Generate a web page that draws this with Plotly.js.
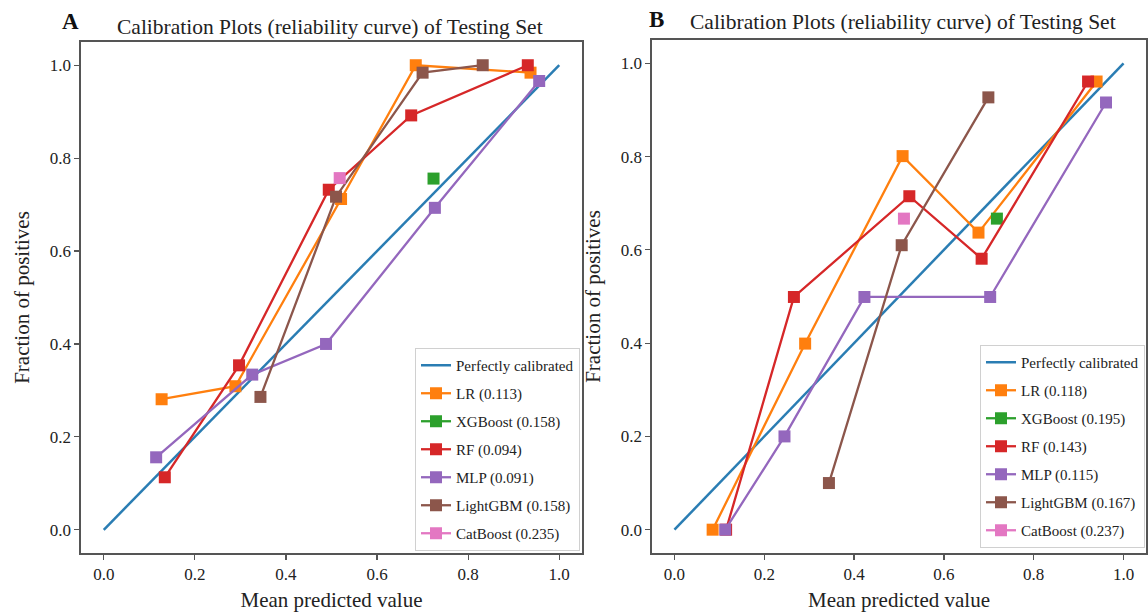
<!DOCTYPE html>
<html>
<head>
<meta charset="utf-8">
<script src="https://cdn.plot.ly/plotly-3.0.0.min.js"></script>
<style>html,body{margin:0;padding:0;background:#fff;}#chart{width:1148px;height:616px;}</style>
</head>
<body>
<div id="chart"></div>
<script>
// ---------- Data ----------
const perfectX = [0, 1];
const perfectY = [0, 1];

const modelNames = ["LR", "XGBoost", "RF", "MLP", "LightGBM", "CatBoost"];
const modelColors = ["#ff7f0e", "#2ca02c", "#d62728", "#9467bd", "#8c564b", "#e377c2"];

// Panel A
const scoresA = ["0.113", "0.158", "0.094", "0.091", "0.158", "0.235"];
const lrA_x = [0.127, 0.289, 0.521, 0.685, 0.937];
const lrA_y = [0.281, 0.309, 0.712, 1.000, 0.984];
const xgbA_x = [0.724];
const xgbA_y = [0.756];
const rfA_x = [0.134, 0.297, 0.494, 0.675, 0.931];
const rfA_y = [0.113, 0.354, 0.732, 0.892, 1.000];
const mlpA_x = [0.115, 0.326, 0.488, 0.727, 0.956];
const mlpA_y = [0.156, 0.334, 0.400, 0.693, 0.966];
const lgbA_x = [0.344, 0.510, 0.700, 0.832];
const lgbA_y = [0.286, 0.717, 0.984, 1.000];
const catA_x = [0.518];
const catA_y = [0.757];

// Panel B
const scoresB = ["0.118", "0.195", "0.143", "0.115", "0.167", "0.237"];
const lrB_x = [0.085, 0.291, 0.508, 0.677, 0.940];
const lrB_y = [0.000, 0.399, 0.801, 0.637, 0.961];
const xgbB_x = [0.718];
const xgbB_y = [0.667];
const rfB_x = [0.115, 0.266, 0.523, 0.684, 0.921];
const rfB_y = [0.000, 0.499, 0.715, 0.581, 0.961];
const mlpB_x = [0.113, 0.245, 0.423, 0.703, 0.961];
const mlpB_y = [0.000, 0.200, 0.499, 0.499, 0.916];
const lgbB_x = [0.344, 0.506, 0.699];
const lgbB_y = [0.100, 0.610, 0.927];
const catB_x = [0.511];
const catB_y = [0.667];

const tickVals = [0, 0.2, 0.4, 0.6, 0.8, 1.0];
const tickText = ["0.0", "0.2", "0.4", "0.6", "0.8", "1.0"];
const titleText = "Calibration Plots (reliability curve) of Testing Set";
const xTitle = "Mean predicted value";
const yTitle = "Fraction of positives";

// ---------- Build traces ----------
const FONT = "Liberation Serif";
const W = 1148, H = 616;

function panelTraces(xs, ys, scores, xa, ya, legendId, prefix) {
  const traces = [{
    x: perfectX, y: perfectY, type: "scatter", mode: "lines",
    name: "Perfectly calibrated", line: {color: "#2a7db3", width: 2.5},
    xaxis: xa, yaxis: ya, legend: legendId, legendgroup: prefix + "p"
  }];
  for (let i = 0; i < modelNames.length; i++) {
    traces.push({
      x: xs[i], y: ys[i], type: "scatter", mode: "lines+markers",
      name: modelNames[i] + " (" + scores[i] + ")",
      line: {color: modelColors[i], width: 2.3},
      marker: {symbol: "square", size: 12, color: modelColors[i]},
      xaxis: xa, yaxis: ya, legend: legendId, legendgroup: prefix + i
    });
  }
  return traces;
}

const data = [].concat(
  panelTraces([lrA_x, xgbA_x, rfA_x, mlpA_x, lgbA_x, catA_x],
              [lrA_y, xgbA_y, rfA_y, mlpA_y, lgbA_y, catA_y], scoresA, "x", "y", "legend", "a"),
  panelTraces([lrB_x, xgbB_x, rfB_x, mlpB_x, lgbB_x, catB_x],
              [lrB_y, xgbB_y, rfB_y, mlpB_y, lgbB_y, catB_y], scoresB, "x2", "y2", "legend2", "b")
);

function axis(domain, anchor, title, standoff) {
  return {
    domain: domain, anchor: anchor, range: [-0.05, 1.05],
    tickvals: tickVals, ticktext: tickText,
    ticks: "outside", ticklen: 5, tickwidth: 1.2, tickcolor: "#555",
    showline: true, linecolor: "#555", linewidth: 1.6, mirror: true,
    showgrid: false, zeroline: false,
    tickfont: {family: FONT, size: 17, color: "#222"},
    title: {text: title, font: {family: FONT, size: 21, color: "#222"}, standoff: standoff}
  };
}

const legendStyle = (x, y) => ({
  x: x, y: y, xanchor: "left", yanchor: "top",
  bgcolor: "rgba(255,255,255,0.9)", bordercolor: "#d0d0d0", borderwidth: 1,
  font: {family: FONT, size: 15, color: "#222"},
  traceorder: "grouped", tracegroupgap: 5.5
});

const layout = {
  width: W, height: H,
  margin: {l: 0, r: 0, t: 0, b: 0},
  paper_bgcolor: "#fff", plot_bgcolor: "#fff",
  showlegend: true,
  font: {family: FONT},
  xaxis: axis([81 / W, 582 / W], "y", xTitle, 9),
  yaxis: axis([1 - 553 / H, 1 - 42 / H], "x", yTitle, 14),
  xaxis2: axis([652 / W, 1146 / W], "y2", xTitle, 9),
  yaxis2: axis([1 - 553 / H, 1 - 40 / H], "x2", yTitle, 14),
  legend: legendStyle(415 / W, 1 - 348 / H),
  legend2: legendStyle(980 / W, 1 - 345 / H),
  annotations: [
    {text: titleText, x: 330 / W, y: 1 - 27 / H, xref: "paper", yref: "paper",
     showarrow: false, xanchor: "center", yanchor: "middle",
     font: {family: FONT, size: 21.5, color: "#222"}},
    {text: titleText, x: 903 / W, y: 1 - 22 / H, xref: "paper", yref: "paper",
     showarrow: false, xanchor: "center", yanchor: "middle",
     font: {family: FONT, size: 21.5, color: "#222"}},
    {text: "<b>A</b>", x: 70 / W, y: 1 - 22 / H, xref: "paper", yref: "paper",
     showarrow: false, xanchor: "center", yanchor: "middle",
     font: {family: FONT, size: 23, color: "#111"}},
    {text: "<b>B</b>", x: 656 / W, y: 1 - 19 / H, xref: "paper", yref: "paper",
     showarrow: false, xanchor: "center", yanchor: "middle",
     font: {family: FONT, size: 23, color: "#111"}}
  ]
};

Plotly.newPlot("chart", data, layout, {displayModeBar: false, staticPlot: true});
</script>
</body>
</html>
